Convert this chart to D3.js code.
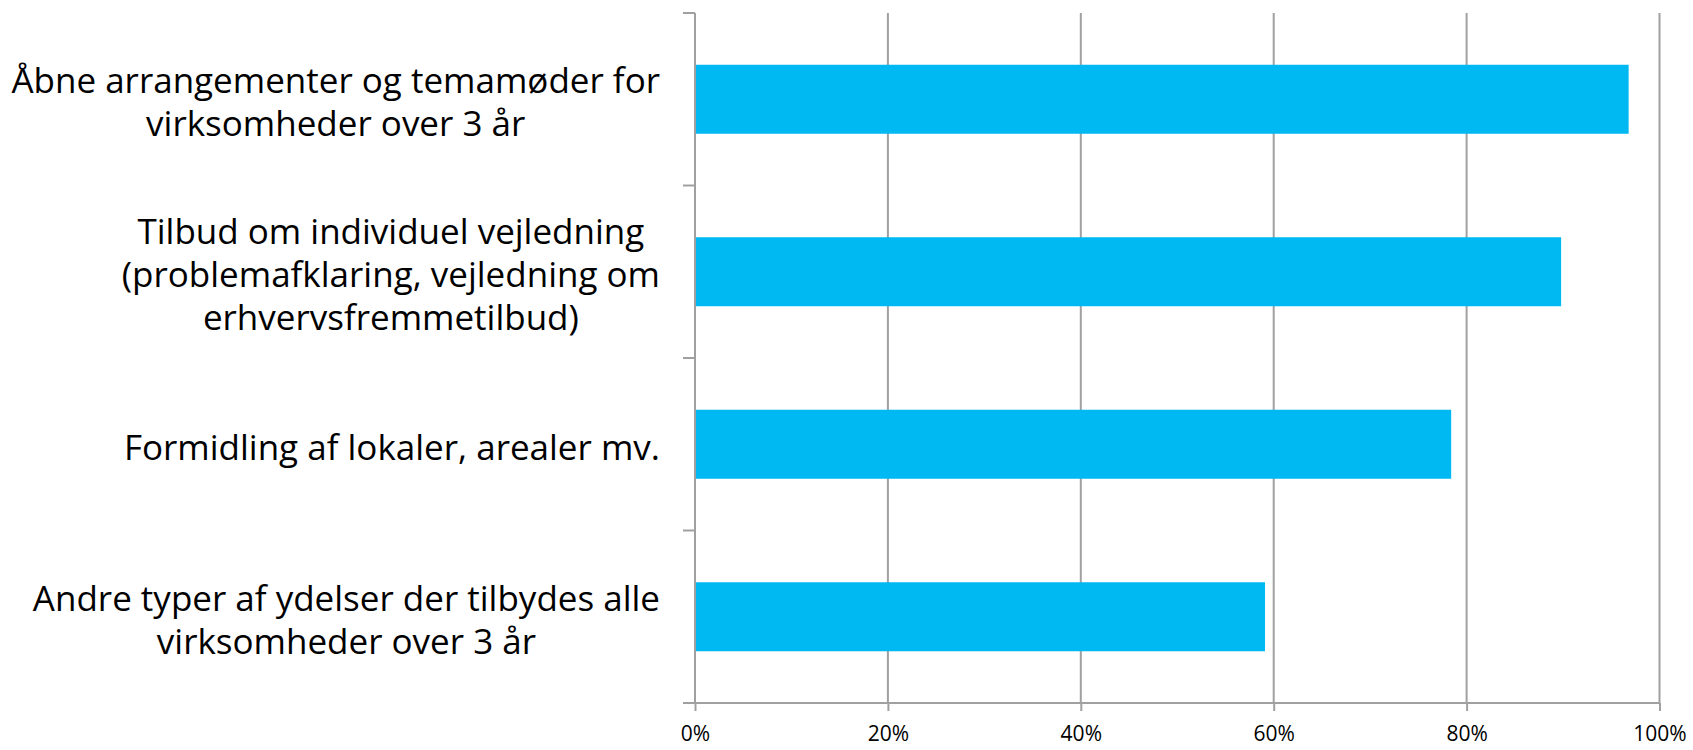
<!DOCTYPE html>
<html>
<head>
<meta charset="utf-8">
<script src="https://cdn.jsdelivr.net/npm/d3@7/dist/d3.min.js"></script>
<style>
  html, body { margin: 0; padding: 0; background: #fff; }
  svg { display: block; }
</style>
</head>
<body>
<svg id="chart" width="1693" height="750"></svg>
<script>
// ---- data ----
const categories = [
  "Åbne arrangementer og temamøder for\nvirksomheder over 3 år",
  "Tilbud om individuel vejledning\n(problemafklaring, vejledning om\nerhvervsfremmetilbud)",
  "Formidling af lokaler, arealer mv.",
  "Andre typer af ydelser der tilbydes alle\nvirksomheder over 3 år"
];
const values = [0.968, 0.898, 0.784, 0.591];
const xTicks = [0, 0.2, 0.4, 0.6, 0.8, 1.0];
const xTickLabels = ["0%", "20%", "40%", "60%", "80%", "100%"];

// ---- layout ----
(function () {
const svg = d3.select("#chart");
const plotL = 695, plotR = 1659.5, plotT = 13, plotB = 703;
const fontFamily = "'Open Sans', 'Noto Sans', sans-serif";
const gridColor = "#a0a0a0";
const barColor = "#00b9f2";

const x = d3.scaleLinear().domain([0, 1]).range([plotL, plotR]);
const y = d3.scaleBand().domain(categories).range([plotT, plotB])
  .paddingInner(0.6).paddingOuter(0.3);

// gridlines
svg.append("g").selectAll("line").data(xTicks.slice(1)).join("line")
  .attr("x1", d => x(d)).attr("x2", d => x(d))
  .attr("y1", plotT).attr("y2", plotB)
  .attr("stroke", gridColor).attr("stroke-width", 2);

// bars
svg.append("g").selectAll("rect").data(values).join("rect")
  .attr("x", x(0))
  .attr("y", (d, i) => y(categories[i]))
  .attr("width", d => x(d) - x(0))
  .attr("height", y.bandwidth())
  .attr("fill", barColor);

// bottom axis
const xAxis = d3.axisBottom(x).tickValues(xTicks)
  .tickFormat((d, i) => xTickLabels[i]).tickSize(8).tickPadding(15).tickSizeOuter(0);
const gx = svg.append("g").attr("transform", `translate(0,${plotB})`).call(xAxis);
gx.select(".domain").remove();
gx.append("line").attr("x1", plotL - 12).attr("x2", plotR).attr("y1", 0).attr("y2", 0)
  .attr("stroke", gridColor).attr("stroke-width", 2);
gx.selectAll(".tick line").attr("stroke", gridColor).attr("stroke-width", 2);
gx.selectAll(".tick text").attr("fill", "#000")
  .style("font-family", fontFamily).style("font-size", "21px");

// left axis line and category boundary ticks
const boundaries = d3.range(categories.length + 1).map(i => plotT + i * ((plotB - plotT) / categories.length));
svg.append("line").attr("x1", plotL).attr("x2", plotL).attr("y1", plotT).attr("y2", plotB)
  .attr("stroke", gridColor).attr("stroke-width", 2);
svg.append("g").selectAll("line").data(boundaries).join("line")
  .attr("x1", plotL - 12).attr("x2", plotL).attr("y1", d => d).attr("y2", d => d)
  .attr("stroke", gridColor).attr("stroke-width", 2);

// category labels (block right-aligned, lines centered within block)
const labelRight = 660;
const lineH = 43;
const labels = svg.append("g").style("font-family", fontFamily).style("font-size", "35px");
categories.forEach((cat, i) => {
  const lines = cat.split("\n");
  const g = labels.append("g");
  const texts = lines.map(l => g.append("text").text(l).attr("fill", "#000"));
  const maxW = d3.max(texts, t => t.node().getComputedTextLength());
  const cx = labelRight - maxW / 2;
  const cy = y(cat) + y.bandwidth() / 2 + 3;
  texts.forEach((t, j) => {
    t.attr("x", cx).attr("text-anchor", "middle")
      .attr("y", cy + (j - (lines.length - 1) / 2) * lineH)
      .attr("dy", "0.35em");
  });
});
})();
</script>
</body>
</html>
